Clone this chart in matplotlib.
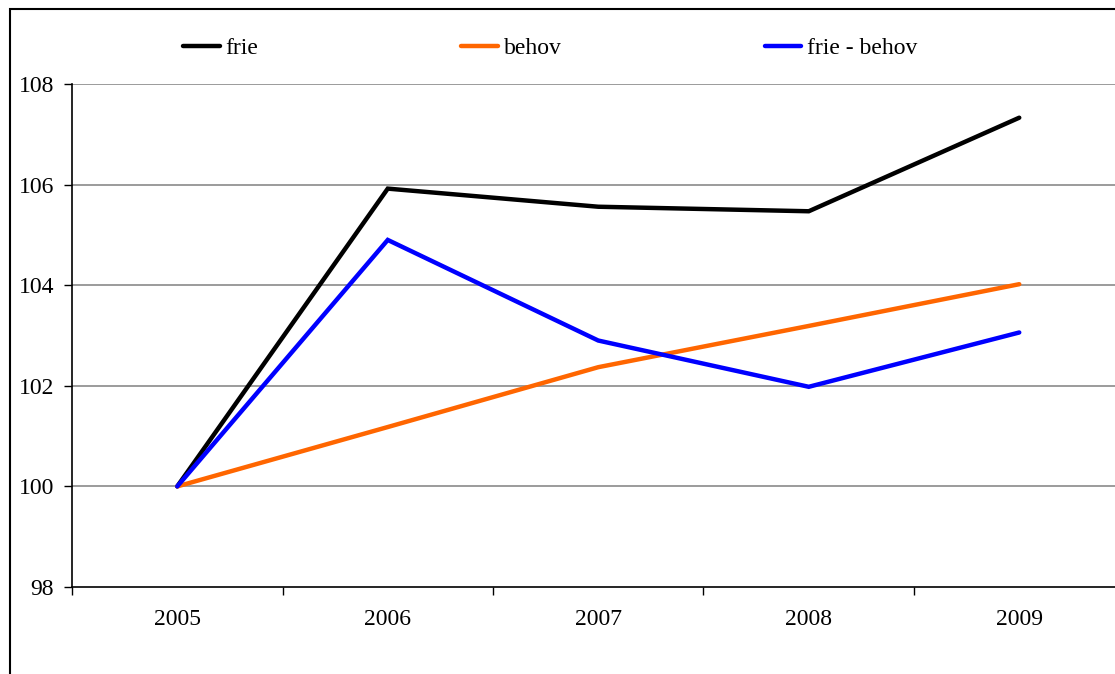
import matplotlib
matplotlib.use("Agg")
import matplotlib.pyplot as plt
from matplotlib.patches import Rectangle

plt.rcParams['font.family'] = ['Liberation Serif', 'DejaVu Serif']

years = ['2005', '2006', '2007', '2008', '2009']
frie = [100.0, 105.92, 105.56, 105.47, 107.33]
behov = [100.0, 101.18, 102.37, 103.19, 104.02]
frie_behov = [100.0, 104.90, 102.90, 101.98, 103.06]
y_ticks = [98, 100, 102, 104, 106, 108]

W, H = 1115, 674
fig = plt.figure(figsize=(W / 100, H / 100), dpi=100)
ax = fig.add_axes([72 / W, 1 - 587 / H, 1052.5 / W, (587 - 84) / H])

x = list(range(len(years)))
fs = 17
for vals, col, lab in [(frie, 'black', 'frie'), (behov, '#FF6600', 'behov'),
                       (frie_behov, '#0000FF', 'frie - behov')]:
    ax.plot(x, vals, color=col, lw=3.2, label=lab, solid_capstyle='round',
            solid_joinstyle='miter', zorder=3)

ax.set_xlim(-0.5, len(years) - 0.5)
ax.set_ylim(98, 108)
ax.set_yticks(y_ticks)
ax.set_yticklabels([str(v) for v in y_ticks], fontsize=fs)
ax.set_xticks(x)
ax.set_xticklabels(years, fontsize=fs)
ax.set_xticks([i - 0.5 for i in range(len(years) + 1)], minor=True)
ax.tick_params(axis='x', which='major', length=0, pad=16)
ax.tick_params(axis='x', which='minor', length=6, width=1, direction='out')
ax.tick_params(axis='y', length=6, width=1, direction='out', pad=7)

for v in y_ticks[1:]:
    ax.axhline(v, color='#808080', lw=1.1, zorder=0)
for s in ['top', 'right']:
    ax.spines[s].set_visible(False)
for s in ['left', 'bottom']:
    ax.spines[s].set_linewidth(1.2)

fig.legend(loc='center left', bbox_to_anchor=(183 / W, 1 - 48 / H), ncol=3,
           frameon=False, fontsize=fs, handlelength=1.55, handletextpad=0.25,
           columnspacing=8.6, borderaxespad=0, borderpad=0)

fig.add_artist(Rectangle((10 / W, -0.1), 1.2, 1.1 - 9 / H, transform=fig.transFigure,
                         fill=False, edgecolor='black', lw=1.5))

fig.savefig('out.png', dpi=100)
